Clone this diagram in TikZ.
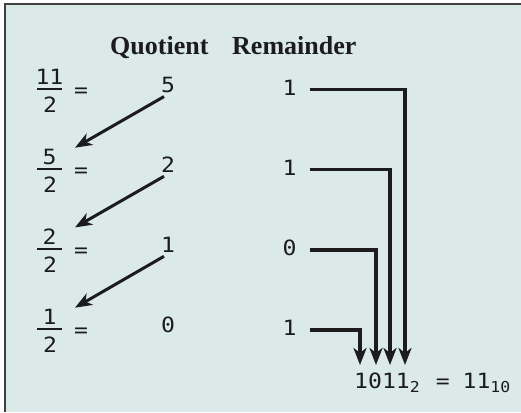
\documentclass[tikz,border=0pt]{standalone}
\usepackage{fontspec}
\setmainfont{Liberation Serif}
\newfontfamily\monofnt[FakeStretch=1.1]{DejaVu Sans Mono}
\usetikzlibrary{arrows.meta,calc}
\definecolor{bg}{HTML}{DBEAE9}
\definecolor{ink}{HTML}{1C1C1C}
\begin{document}
\begin{tikzpicture}[x=1pt,y=-1pt,
  dig/.style={font=\monofnt\fontsize{21}{21}\selectfont, text=ink, inner sep=0pt, anchor=base},
  head/.style={font=\bfseries\fontsize{26}{26}\selectfont, text=ink, inner sep=0pt, anchor=base west},
  wire/.style={draw=ink, line width=3.1pt, -{Stealth[length=17pt,width=13pt,inset=5pt]}},
  arr/.style={draw=ink, line width=3pt, -{Stealth[length=17pt,width=13pt,inset=5pt]}},
  fracbar/.style={draw=ink, line width=1.6pt}]
\useasboundingbox (0,0) rectangle (521,412);
\fill[white] (0,0) rectangle (521,412);
\fill[bg] (5,4) rectangle (521,412);
\draw[line width=2.2pt, draw=black!75] (5,412) -- (5,4) -- (521,4);
\node[head] (hq) at (110,55) {Quotient};
\node[head] (hr) at (232,55) {Remainder};
\foreach \i/\n/\q/\r in {1/11/5/1, 2/5/2/1, 3/2/1/0, 4/1/0/1}{
  \pgfmathsetmacro{\y}{9+80*\i}
  \node[dig] (num\i) at (49.5,\y-4.3) {\n};
  \draw[fracbar] (37,\y) -- (62,\y);
  \node[dig] (den\i) at (50,\y+23.6) {2};
  \node[dig] (eq\i) at (81,\y+8.5) {=};
  \node[dig] (q\i) at (168,\y+3.6) {\q};
  \node[dig] (r\i) at (289.5,\y+6.3) {\r};
}
\foreach \i/\j in {1/2,2/3,3/4}{
  \draw[arr] ($(q\i.south)+(-4,3.5)$) -- ($(num\j.north)+(25.5,-1.5)$);
}
\node[dig, anchor=base west] (res) at (354,388) {1011\raisebox{-4pt}{\fontsize{15}{15}\selectfont 2}\hspace{16pt}=\hspace{13pt}11\raisebox{-4pt}{\fontsize{15}{15}\selectfont 10}};
\foreach \i/\x in {1/405,2/390,3/376,4/360}{
  \coordinate (w\i) at ($(r\i.east)+(13,2.3)$);
  \coordinate (t\i) at (\x,365);
  \draw[wire] (w\i) -| (t\i);
}
\end{tikzpicture}
\end{document}
